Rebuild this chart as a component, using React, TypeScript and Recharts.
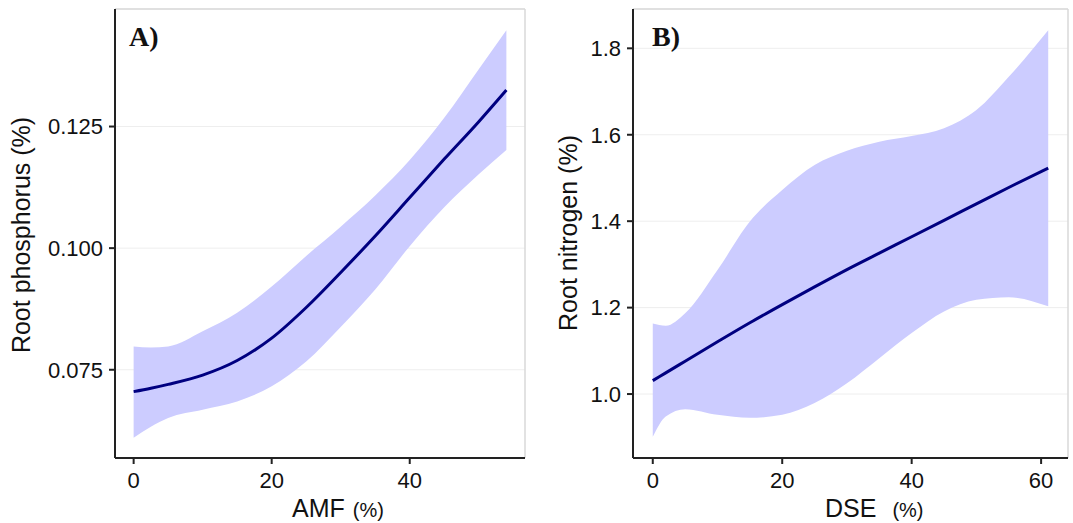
import React from 'react';
import { ComposedChart, Area, Line, XAxis, YAxis, CartesianGrid, ReferenceLine } from 'recharts';

// A) root phosphorus vs AMF colonisation
const amfX = [0, 2.5, 5, 10, 15, 20, 25, 30, 35, 40, 45, 50, 54];
const amfFit = [0.0705, 0.0712, 0.072, 0.0739, 0.0769, 0.0815, 0.0878, 0.095, 0.1025, 0.1104, 0.1183, 0.126, 0.1325];
const amfUpper = [0.0798, 0.0796, 0.0798, 0.0829, 0.0867, 0.0921, 0.0984, 0.1044, 0.1108, 0.1181, 0.1268, 0.1368, 0.1448];
const amfLower = [0.061, 0.0633, 0.0651, 0.0668, 0.0685, 0.0716, 0.0767, 0.0838, 0.0915, 0.1004, 0.1084, 0.1152, 0.1202];
const amfXTicks = [0, 20, 40];
const amfYTicks = [0.075, 0.1, 0.125];

// B) root nitrogen vs DSE colonisation
const dseX = [0, 2, 5, 10, 15, 20, 25, 30, 35, 40, 45, 50, 55, 61.1];
const dseFit = [1.031, 1.049, 1.076, 1.121, 1.165, 1.207, 1.248, 1.288, 1.326, 1.364, 1.402, 1.44, 1.478, 1.523];
const dseUpper = [1.163, 1.158, 1.187, 1.287, 1.399, 1.472, 1.53, 1.563, 1.584, 1.597, 1.615, 1.657, 1.734, 1.842];
const dseLower = [0.901, 0.948, 0.965, 0.952, 0.945, 0.952, 0.979, 1.025, 1.083, 1.141, 1.191, 1.218, 1.224, 1.203];
const dseXTicks = [0, 20, 40, 60];
const dseYTicks = [1.0, 1.2, 1.4, 1.6, 1.8];

const amfData = amfX.map((x, i) => ({ x, fit: amfFit[i], band: [amfLower[i], amfUpper[i]] }));
const dseData = dseX.map((x, i) => ({ x, fit: dseFit[i], band: [dseLower[i], dseUpper[i]] }));

const sans = '"Liberation Sans", Arial, sans-serif';
const serif = '"Liberation Serif", "Times New Roman", serif';
const tickStyle = { fill: '#111', fontSize: 22, fontFamily: sans };
const axisStroke = { stroke: '#222', strokeWidth: 2 };

type PanelProps = {
  data: any[];
  width: number;
  yAxisWidth: number;
  rightMargin: number;
  xDomain: [number, number];
  yDomain: [number, number];
  xTicks: number[];
  yTicks: number[];
  yFmt: (v: number) => string;
};

const Panel: React.FC<PanelProps> = ({ data, width, yAxisWidth, rightMargin, xDomain, yDomain, xTicks, yTicks, yFmt }) => (
  <ComposedChart width={width} height={523} data={data} margin={{ top: 9, right: rightMargin, left: 0, bottom: 0 }}>
    <CartesianGrid vertical={false} stroke="#eeeeee" strokeWidth={1} />
    <ReferenceLine y={yDomain[1]} stroke="#d9d9d9" strokeWidth={1.5} />
    <ReferenceLine x={xDomain[1]} stroke="#d9d9d9" strokeWidth={1.5} />
    <XAxis
      dataKey="x"
      type="number"
      domain={xDomain}
      ticks={xTicks}
      allowDataOverflow
      height={65}
      tick={tickStyle}
      tickSize={6}
      tickMargin={8}
      axisLine={axisStroke}
      tickLine={axisStroke}
    />
    <YAxis
      type="number"
      domain={yDomain}
      ticks={yTicks}
      allowDataOverflow
      width={yAxisWidth}
      tick={tickStyle}
      tickFormatter={yFmt}
      tickSize={6}
      tickMargin={6}
      axisLine={axisStroke}
      tickLine={axisStroke}
    />
    <Area type="monotone" dataKey="band" stroke="none" fill="#ccccff" fillOpacity={1} isAnimationActive={false} />
    <Line type="monotone" dataKey="fit" stroke="#000080" strokeWidth={3} dot={false} activeDot={false} isAnimationActive={false} />
  </ComposedChart>
);

export default function App() {
  return (
    <div style={{ position: 'relative', width: 1073, height: 523, background: '#fff', overflow: 'hidden' }}>
      <style>{'body{margin:0;}'}</style>
      <div style={{ position: 'absolute', left: 0, top: 0 }}>
        <Panel
          data={amfData}
          width={540}
          yAxisWidth={115}
          rightMargin={15}
          xDomain={[-2.7, 56.7]}
          yDomain={[0.05686, 0.14916]}
          xTicks={amfXTicks}
          yTicks={amfYTicks}
          yFmt={(v) => v.toFixed(3)}
        />
      </div>
      <div style={{ position: 'absolute', left: 540, top: 0 }}>
        <Panel
          data={dseData}
          width={533}
          yAxisWidth={93}
          rightMargin={5}
          xDomain={[-3.055, 64.155]}
          yDomain={[0.852, 1.891]}
          xTicks={dseXTicks}
          yTicks={dseYTicks}
          yFmt={(v) => v.toFixed(1)}
        />
      </div>
      {/* titles and panel letters */}
      <svg width={1073} height={523} style={{ position: 'absolute', left: 0, top: 0, pointerEvents: 'none' }}>
        <text x={129} y={46} fontFamily={serif} fontWeight="bold" fontSize={28} fill="#111">A)</text>
        <text x={652} y={46} fontFamily={serif} fontWeight="bold" fontSize={28} fill="#111">B)</text>
        <text transform="translate(30,235) rotate(-90)" textAnchor="middle" fontFamily={sans} fontSize={25} fill="#111">Root phosphorus (%)</text>
        <text transform="translate(577,233) rotate(-90)" textAnchor="middle" fontFamily={sans} fontSize={25} fill="#111">Root nitrogen (%)</text>
        <text x={292} y={517} fontFamily={sans} fontSize={25} fill="#111">
          AMF<tspan dx={8} fontSize={20}>(%)</tspan>
        </text>
        <text x={825} y={517} fontFamily={sans} fontSize={25} fill="#111">
          DSE<tspan dx={16} fontSize={20}>(%)</tspan>
        </text>
      </svg>
    </div>
  );
}
